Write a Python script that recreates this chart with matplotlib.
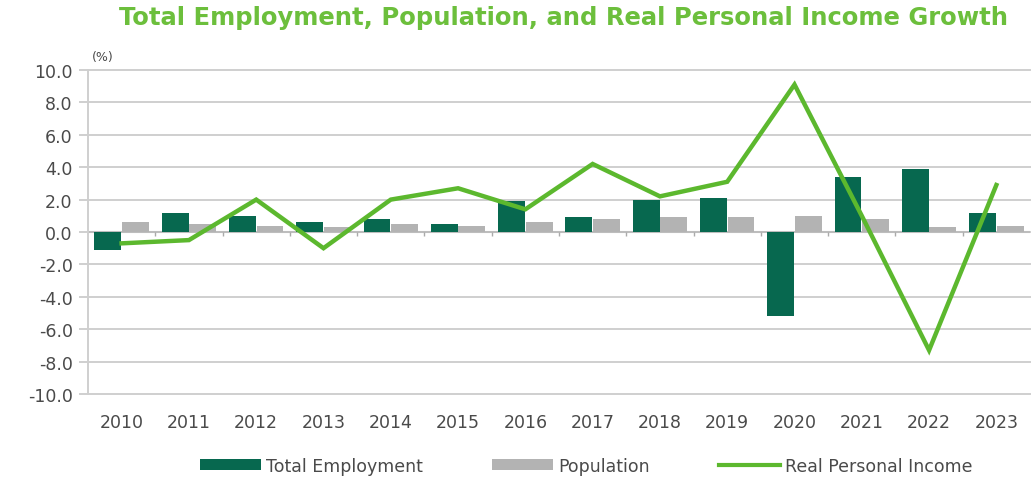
import matplotlib
matplotlib.use("Agg")
import matplotlib.pyplot as plt
import numpy as np
from matplotlib.patches import Patch
from matplotlib.lines import Line2D

plt.rcParams["axes.unicode_minus"] = False

years = ["2010", "2011", "2012", "2013", "2014", "2015", "2016",
         "2017", "2018", "2019", "2020", "2021", "2022", "2023"]
employment = [-1.1, 1.2, 1.0, 0.6, 0.8, 0.5, 1.9, 0.9, 2.0, 2.1, -5.2, 3.4, 3.9, 1.2]
population = [0.6, 0.5, 0.4, 0.3, 0.5, 0.4, 0.6, 0.8, 0.9, 0.9, 1.0, 0.8, 0.3, 0.4]
income = [-0.7, -0.5, 2.0, -1.0, 2.0, 2.7, 1.4, 4.2, 2.2, 3.1, 9.1, 1.0, -7.3, 2.9]
yticks = [-10, -8, -6, -4, -2, 0, 2, 4, 6, 8, 10]

c_emp = "#07684f"
c_pop = "#b3b3b3"
c_inc = "#5cb82e"
c_title = "#6cbf3c"
c_text = "#4a4a4a"
c_grid = "#cfcfcf"

fig = plt.figure(figsize=(10.32, 4.81), dpi=100)
ax = fig.add_axes([88/1032, 1-395/481, (1030-88)/1032, (395-71)/481])

x = np.arange(len(years))
w = 0.40
ax.bar(x - 0.205, employment, w, color=c_emp, zorder=3)
ax.bar(x + 0.205, population, w, color=c_pop, zorder=3)
ax.plot(x, income, color=c_inc, lw=3.2, zorder=4, solid_joinstyle="miter")

ax.set_xlim(-0.5, len(years) - 0.5)
ax.set_ylim(-10, 10)
for yv in yticks:
    ax.axhline(yv, color=c_grid, lw=1.4, zorder=1, xmin=-0.009, clip_on=False)
ax.axhline(0, color="#bdbdbd", lw=1.5, zorder=2)
# category boundary tick marks on the zero line
ax.vlines(x[:-1] + 0.5, -0.25, 0, color="#aaaaaa", lw=1, zorder=2)

ax.set_yticks(yticks)
ax.set_yticklabels([f"{v:.1f}" for v in yticks])
ax.set_xticks(x)
ax.set_xticklabels(years)
ax.tick_params(axis="y", length=0, pad=11, labelsize=12.5, labelcolor=c_text)
ax.tick_params(axis="x", length=0, pad=14, labelsize=12.5, labelcolor=c_text)
for s in ["top", "right", "bottom"]:
    ax.spines[s].set_visible(False)
ax.spines["left"].set_color(c_grid)
ax.spines["left"].set_linewidth(1.4)

fig.text(92/1032, 1-58/481, "(%)", fontsize=9, color=c_text, va="center", ha="left")
fig.text(0.546, 1-18/481, "Total Employment, Population, and Real Personal Income Growth",
         fontsize=17.5, fontweight="bold", color=c_title, ha="center", va="center")

handles = [Patch(facecolor=c_emp), Patch(facecolor=c_pop),
           Line2D([0], [0], color=c_inc, lw=3)]
labels = ["Total Employment", "Population", "Real Personal Income"]
fig.legend(handles, labels, loc="center", bbox_to_anchor=(0.568, 1-467/481), ncol=3,
           frameon=False, fontsize=12.5, labelcolor=c_text, handlelength=3.5,
           handleheight=0.6, handletextpad=0.3, columnspacing=4.0)

fig.savefig("out.png", dpi=100)
